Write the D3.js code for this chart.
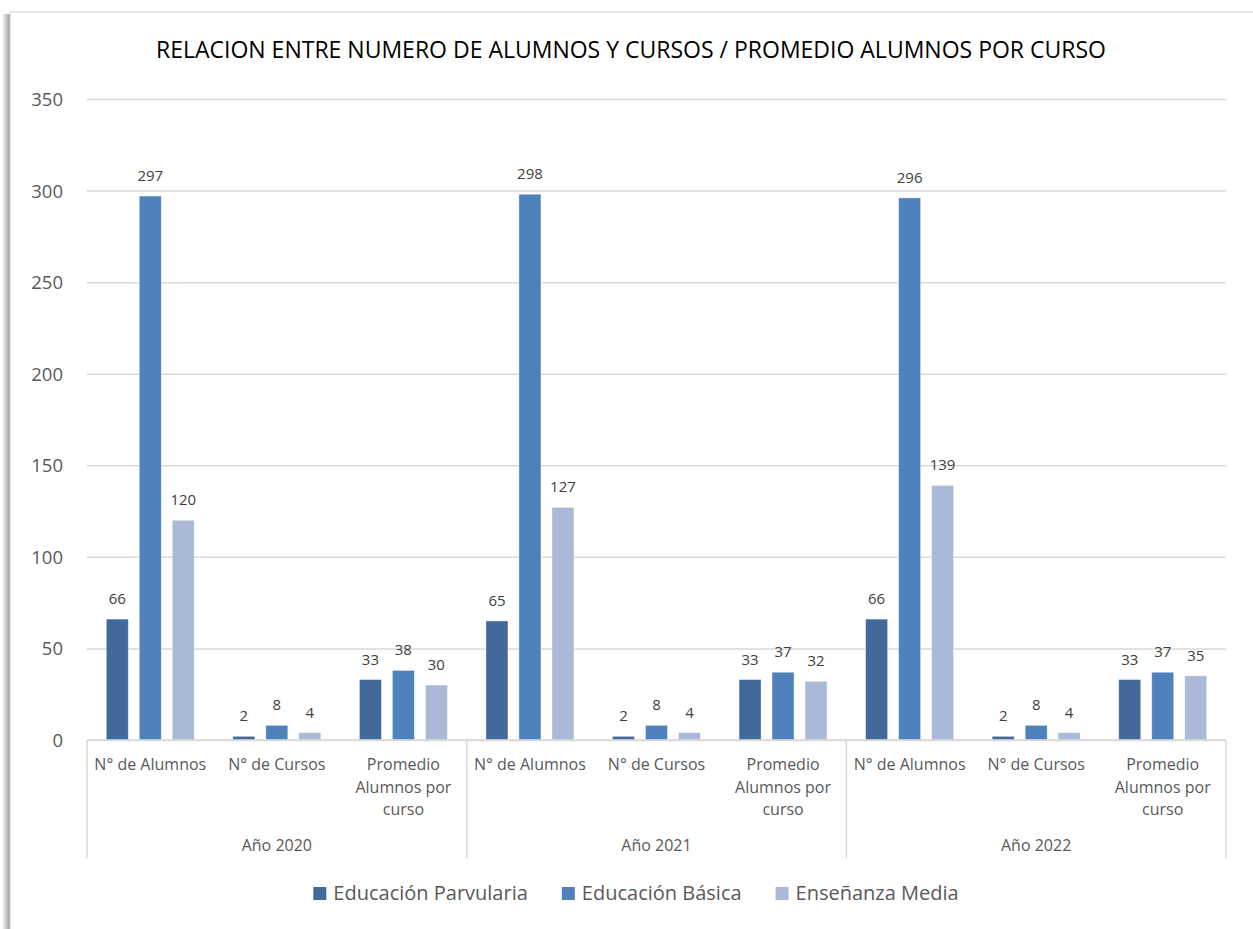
<!DOCTYPE html>
<html lang="es">
<head>
<meta charset="utf-8">
<title>Relacion alumnos y cursos</title>
<script src="https://d3js.org/d3.v7.min.js"></script>
<style>
  body { margin: 0; background: #fff; }
  svg text { font-family: "Open Sans", "Noto Sans", sans-serif; }
  .yaxis text { font-size: 18.5px; fill: #595959; }
  .yaxis line { stroke: #d9d9d9; stroke-width: 1.5px; }
  .yaxis path { display: none; }
  .cat { font-size: 16px; fill: #595959; }
  .lbl { font-size: 15px; fill: #404040; }
  .legend text { font-size: 20px; fill: #595959; }
</style>
</head>
<body>
<script>
const years = ["Año 2020", "Año 2021", "Año 2022"];
const categories = ["N° de Alumnos", "N° de Cursos", "Promedio Alumnos por curso"];
const categoryLines = [["N° de Alumnos"], ["N° de Cursos"], ["Promedio", "Alumnos por", "curso"]];
const series = ["Educación Parvularia", "Educación Básica", "Enseñanza Media"];
const colors = ["#41699a", "#4f81bd", "#aab9d7"];

// values per series, in order year x category
const parvularia = [66, 2, 33, 65, 2, 33, 66, 2, 33];
const basica = [297, 8, 38, 298, 8, 37, 296, 8, 37];
const media = [120, 4, 30, 127, 4, 32, 139, 4, 35];
const yTicks = [0, 50, 100, 150, 200, 250, 300, 350];

const W = 1253, H = 929;
const plotLeft = 87, plotRight = 1226, plotTop = 99, plotBottom = 740;

const svg = d3.select("body").append("svg")
  .attr("width", W).attr("height", H);

// frame with left shadow
const defs = svg.append("defs");
const grad = defs.append("linearGradient").attr("id", "shadow");
grad.append("stop").attr("offset", "0%").attr("stop-color", "#fff");
grad.append("stop").attr("offset", "100%").attr("stop-color", "#9a9a9a");
svg.append("rect").attr("x", 2).attr("y", 14).attr("width", 8).attr("height", H)
  .attr("fill", "url(#shadow)");
svg.append("rect").attr("x", 10).attr("y", 12).attr("width", W).attr("height", H)
  .attr("fill", "#fff").attr("stroke", "#d0d0d0").attr("stroke-width", 1);

// title
svg.append("text")
  .attr("x", 631).attr("y", 58)
  .attr("text-anchor", "middle")
  .style("font-size", "23px").style("fill", "#000")
  .text("RELACION ENTRE NUMERO DE ALUMNOS Y CURSOS / PROMEDIO ALUMNOS POR CURSO");

// scales
const keys = [];
years.forEach(yr => categories.forEach(c => keys.push(yr + "|" + c)));

const x0 = d3.scaleBand().domain(keys).range([plotLeft, plotRight]).padding(0);
const x1 = d3.scaleBand().domain(series).range([0, x0.bandwidth()])
  .paddingInner(1 / 3).paddingOuter(0.585);
const y = d3.scaleLinear().domain([0, 350]).range([plotBottom, plotTop]);

// y axis + gridlines
svg.append("g")
  .attr("class", "yaxis")
  .attr("transform", `translate(${plotLeft},0)`)
  .call(d3.axisLeft(y).tickValues(yTicks).tickSize(-(plotRight - plotLeft)).tickPadding(24))
  .call(g => g.selectAll("text").attr("dy", "0.35em"));

// bars
const values = [parvularia, basica, media];
const rows = [];
keys.forEach((k, i) => {
  series.forEach((s, j) => rows.push({ key: k, s: s, v: values[j][i], c: colors[j] }));
});

svg.append("g").selectAll("rect")
  .data(rows)
  .join("rect")
  .attr("x", d => x0(d.key) + x1(d.s))
  .attr("y", d => y(d.v))
  .attr("width", x1.bandwidth())
  .attr("height", d => y(0) - y(d.v))
  .attr("fill", d => d.c)
  .attr("stroke", "#ffffff")
  .attr("stroke-opacity", 0.5)
  .attr("stroke-width", 0.75);

// data labels
svg.append("g").selectAll("text")
  .data(rows)
  .join("text")
  .attr("class", "lbl")
  .attr("x", d => x0(d.key) + x1(d.s) + x1.bandwidth() / 2)
  .attr("y", d => y(d.v) - 15)
  .attr("text-anchor", "middle")
  .text(d => d.v);

// category axis
const axisG = svg.append("g");
axisG.append("line")
  .attr("x1", plotLeft).attr("x2", plotRight).attr("y1", plotBottom).attr("y2", plotBottom)
  .attr("stroke", "#d9d9d9").attr("stroke-width", 1.5);

const yearStarts = years.map(yr => x0(yr + "|" + categories[0]));
yearStarts.concat([plotRight]).forEach(xv => {
  axisG.append("line")
    .attr("x1", xv).attr("x2", xv).attr("y1", plotBottom).attr("y2", 858)
    .attr("stroke", "#d9d9d9").attr("stroke-width", 1.5);
});

keys.forEach((k, i) => {
  const lines = categoryLines[i % categories.length];
  const t = axisG.append("text")
    .attr("class", "cat")
    .attr("text-anchor", "middle")
    .attr("x", x0(k) + x0.bandwidth() / 2)
    .attr("y", 770);
  lines.forEach((ln, li) => {
    t.append("tspan")
      .attr("x", x0(k) + x0.bandwidth() / 2)
      .attr("dy", li === 0 ? 0 : 22.5)
      .text(ln);
  });
});

years.forEach((yr, i) => {
  axisG.append("text")
    .attr("class", "cat")
    .attr("text-anchor", "middle")
    .attr("x", yearStarts[i] + x0.bandwidth() * 1.5)
    .attr("y", 851)
    .text(yr);
});

// legend
const legend = svg.append("g").attr("class", "legend");
const items = legend.selectAll("g").data(series).join("g");
items.append("rect")
  .attr("width", 13).attr("height", 13).attr("y", -13)
  .attr("fill", (d, i) => colors[i]);
items.append("text").attr("x", 20).attr("y", 0).text(d => d);

const widths = [];
items.each(function () { widths.push(this.querySelector("text").getComputedTextLength() + 20); });
const gap = 34;
const total = d3.sum(widths) + gap * (widths.length - 1);
let cx = 636 - total / 2;
items.attr("transform", (d, i) => {
  const tx = cx;
  cx += widths[i] + gap;
  return `translate(${tx},900)`;
});
</script>
</body>
</html>
